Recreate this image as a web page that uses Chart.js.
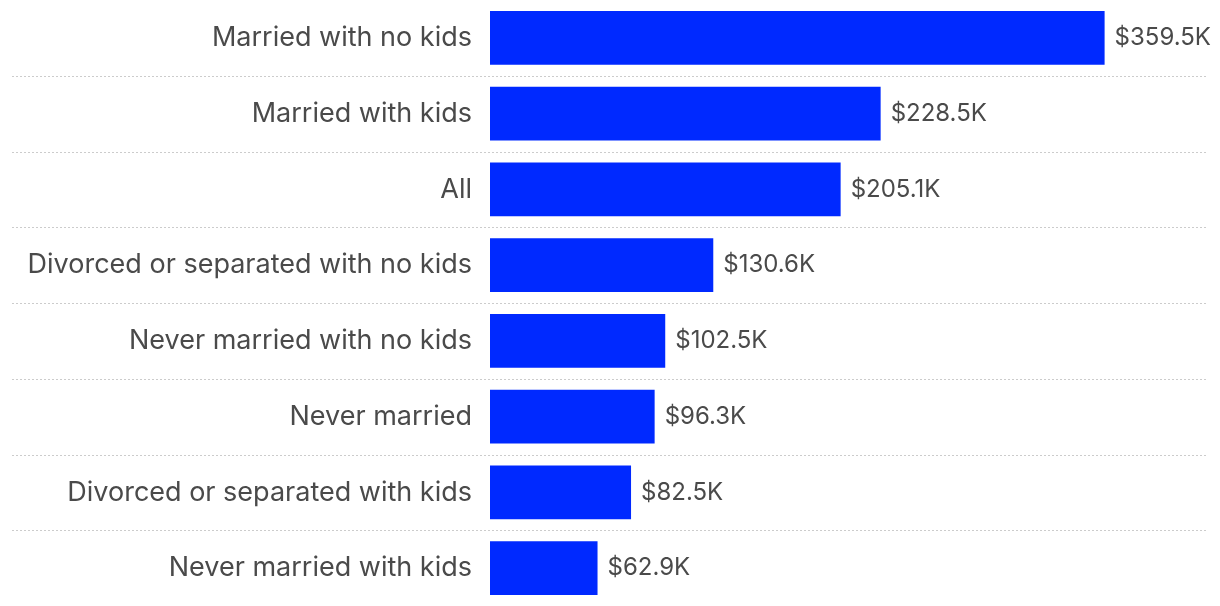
<!DOCTYPE html>
<html>
<head>
<meta charset="utf-8">
<script src="https://cdn.jsdelivr.net/npm/chart.js@4"></script>
<style>
  html, body { margin: 0; padding: 0; background: #fff; }
  #wrap { width: 1220px; height: 606px; }
</style>
</head>
<body>
<div id="wrap"><canvas id="myChart"></canvas></div>
<script>
var categories = [
  'Married with no kids',
  'Married with kids',
  'All',
  'Divorced or separated with no kids',
  'Never married with no kids',
  'Never married',
  'Divorced or separated with kids',
  'Never married with kids'
];

// median net worth, thousands of dollars
var netWorth = [359.5, 228.5, 205.1, 130.6, 102.5, 96.3, 82.5, 62.9];

var valueLabels = ['$359.5K', '$228.5K', '$205.1K', '$130.6K', '$102.5K', '$96.3K', '$82.5K', '$62.9K'];

var FONT = 'Inter, "Noto Sans", sans-serif';
var TEXT = '#4a4a4a';

// dotted separators between rows
var rowLines = {
  id: 'rowLines',
  beforeDatasetsDraw: function (chart) {
    var ctx = chart.ctx;
    var y = chart.scales.y;
    ctx.save();
    ctx.strokeStyle = '#cccccc';
    ctx.lineWidth = 1;
    ctx.setLineDash([2, 2]);
    for (var i = 0; i < categories.length - 1; i++) {
      var py = Math.round((y.getPixelForValue(i) + y.getPixelForValue(i + 1)) / 2) + 0.5;
      ctx.beginPath();
      ctx.moveTo(12, py);
      ctx.lineTo(1208, py);
      ctx.stroke();
    }
    ctx.restore();
  }
};

// value labels at the end of each bar
var barValues = {
  id: 'barValues',
  afterDatasetsDraw: function (chart) {
    var ctx = chart.ctx;
    var meta = chart.getDatasetMeta(0);
    ctx.save();
    ctx.font = '24px ' + FONT;
    ctx.fillStyle = TEXT;
    ctx.textAlign = 'left';
    ctx.textBaseline = 'middle';
    meta.data.forEach(function (bar, i) {
      ctx.fillText(valueLabels[i], bar.x + 10, bar.y);
    });
    ctx.restore();
  }
};

var ctx = document.getElementById('myChart').getContext('2d');
var myChart = new Chart(ctx, {
  type: 'bar',
  data: {
    labels: categories,
    datasets: [{
      data: netWorth,
      backgroundColor: '#0029ff',
      borderWidth: 0,
      barPercentage: 0.71,
      categoryPercentage: 1
    }]
  },
  options: {
    indexAxis: 'y',
    responsive: true,
    maintainAspectRatio: false,
    animation: false,
    layout: { padding: 0 },
    plugins: {
      legend: { display: false },
      tooltip: { enabled: false }
    },
    scales: {
      x: {
        display: false,
        min: 0,
        max: 427
      },
      y: {
        border: { display: false },
        grid: { display: false, drawTicks: false },
        afterFit: function (scale) {
          scale.width = 490;
          scale.paddingTop = 0;
          scale.paddingBottom = 0;
        },
        ticks: {
          color: TEXT,
          padding: 18,
          font: { family: FONT, size: 27 }
        }
      }
    }
  },
  plugins: [rowLines, barValues]
});
</script>
</body>
</html>
